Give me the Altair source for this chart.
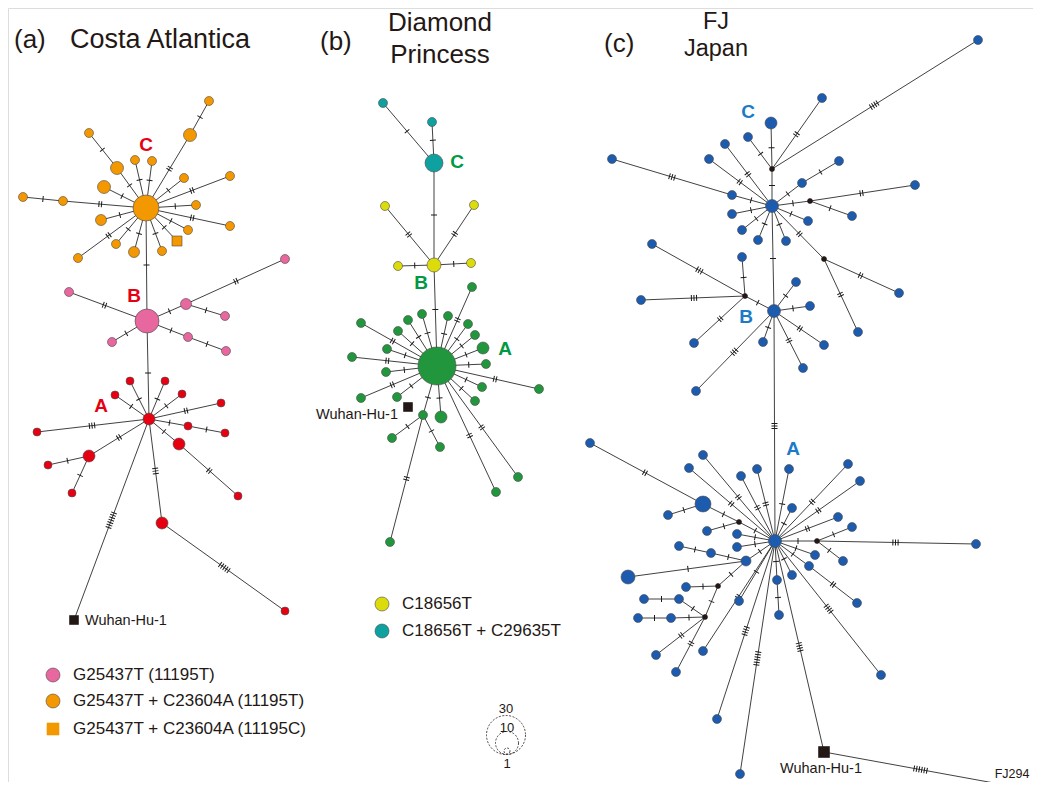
import math
import altair as alt
import pandas as pd

# ---------------- data: haplotype nodes (name, x, y, diameter, group, parent, mutations)
a_nodes = [
    ("aA", 149, 419, 12, "red", None, 0),
    ("aB", 147, 321, 24, "pink", "aA", 1),
    ("aC", 146, 208, 26, "orange", "aB", 1),
    ("a1", 190, 135, 13, "orange", "aC", 2),
    ("a2", 209, 101, 9, "orange", "a1", 1),
    ("a3", 117, 168, 13, "orange", "aC", 1),
    ("a4", 89, 133, 9, "orange", "a3", 1),
    ("a5", 135, 160, 9, "orange", "aC", 1),
    ("a6", 152, 161, 9, "orange", "aC", 1),
    ("a7", 104, 187, 13, "orange", "aC", 1),
    ("a8", 184, 178, 9, "orange", "aC", 1),
    ("a9", 230, 176, 9, "orange", "aC", 2),
    ("a10", 63, 201, 9, "orange", "aC", 2),
    ("a11", 23, 197, 9, "orange", "a10", 1),
    ("a12", 196, 205, 9, "orange", "aC", 1),
    ("a13", 101, 220, 11, "orange", "aC", 1),
    ("a14", 188, 230, 9, "orange", "aC", 1),
    ("a15", 230, 226, 9, "orange", "aC", 2),
    ("a16", 78, 258, 9, "orange", "aC", 2),
    ("a17", 116, 244, 9, "orange", "aC", 1),
    ("a18", 134, 252, 11, "orange", "aC", 1),
    ("a19", 162, 251, 9, "orange", "aC", 1),
    ("a20", 177, 241, 10, "orangesq", "aC", 1),
    ("b1", 69, 292, 9, "pink", "aB", 2),
    ("b2", 186, 304, 11, "pink", "aB", 1),
    ("b3", 285, 259, 9, "pink", "b2", 2),
    ("b4", 225, 316, 9, "pink", "b2", 1),
    ("b5", 112, 342, 9, "pink", "aB", 1),
    ("b6", 188, 337, 9, "pink", "aB", 1),
    ("b7", 226, 351, 9, "pink", "b6", 1),
    ("r1", 130, 381, 8, "red", "aA", 1),
    ("r2", 165, 381, 8, "red", "aA", 1),
    ("r3", 115, 395, 8, "red", "aA", 1),
    ("r4", 182, 394, 8, "red", "aA", 1),
    ("r5", 221, 403, 8, "red", "aA", 2),
    ("r6", 37, 432, 8, "red", "aA", 3),
    ("r7", 188, 426, 8, "red", "aA", 1),
    ("r8", 225, 433, 8, "red", "r7", 1),
    ("r9", 179, 444, 12, "red", "aA", 1),
    ("r10", 238, 496, 8, "red", "r9", 2),
    ("r11", 89, 456, 12, "red", "aA", 2),
    ("r12", 48, 465, 8, "red", "r11", 1),
    ("r13", 72, 493, 8, "red", "r11", 1),
    ("r14", 162, 523, 12, "red", "aA", 3),
    ("r15", 285, 611, 8, "red", "r14", 5),
    ("wa", 74, 620, 9, "ref", "aA", 7),
]

b_nodes = [
    ("dA", 437, 366, 38, "green", None, 0),
    ("dB", 434, 265, 14, "yellow", "dA", 1),
    ("dC", 434, 163, 18, "teal", "dB", 1),
    ("t1", 383, 103, 9, "teal", "dC", 1),
    ("t2", 432, 122, 9, "teal", "dC", 1),
    ("y1", 385, 206, 9, "yellow", "dB", 2),
    ("y2", 474, 205, 9, "yellow", "dB", 2),
    ("y3", 398, 266, 9, "yellow", "dB", 1),
    ("y4", 471, 263, 9, "yellow", "dB", 1),
    ("g1", 472, 287, 9, "green", "dA", 2),
    ("g2", 361, 323, 9, "green", "dA", 2),
    ("g3", 422, 314, 9, "green", "dA", 1),
    ("g4", 448, 316, 9, "green", "dA", 1),
    ("g5", 408, 320, 9, "green", "dA", 1),
    ("g6", 468, 324, 9, "green", "dA", 1),
    ("g7", 398, 331, 9, "green", "dA", 1),
    ("g8", 475, 335, 9, "green", "dA", 1),
    ("g9", 483, 348, 12, "green", "dA", 1),
    ("g10", 387, 349, 9, "green", "dA", 1),
    ("g11", 352, 357, 9, "green", "dA", 2),
    ("g12", 486, 364, 9, "green", "dA", 1),
    ("g13", 386, 372, 9, "green", "dA", 1),
    ("g14", 539, 389, 9, "green", "dA", 2),
    ("g15", 482, 387, 9, "green", "dA", 1),
    ("g16", 361, 398, 9, "green", "dA", 2),
    ("g17", 397, 397, 9, "green", "dA", 1),
    ("g18", 475, 401, 9, "green", "dA", 1),
    ("g19", 441, 417, 12, "green", "dA", 1),
    ("g20", 423, 415, 9, "green", "dA", 1),
    ("g21", 392, 438, 9, "green", "g20", 1),
    ("g22", 440, 447, 9, "green", "g20", 1),
    ("g23", 390, 542, 9, "green", "g20", 2),
    ("g24", 518, 477, 9, "green", "dA", 2),
    ("g25", 496, 492, 9, "green", "dA", 2),
    ("wb", 408, 407, 9, "ref", None, 0),
]

c_nodes = [
    ("cA", 775, 541, 13, "blue", None, 0),
    ("cB", 774, 311, 13, "blue", "cA", 3),
    ("cC", 772, 206, 13, "blue", "cB", 1),
    ("j1", 772, 169, 5, "junction", "cC", 1),
    ("c1", 771, 123, 12, "blue", "j1", 1),
    ("c2", 748, 137, 9, "blue", "j1", 1),
    ("c3", 822, 98, 9, "blue", "j1", 2),
    ("c4", 978, 40, 9, "blue", "j1", 4),
    ("c5", 725, 144, 9, "blue", "cC", 2),
    ("c6", 709, 159, 9, "blue", "cC", 2),
    ("c7", 732, 195, 9, "blue", "cC", 1),
    ("c8", 612, 159, 9, "blue", "c7", 3),
    ("c9", 732, 214, 9, "blue", "cC", 1),
    ("c10", 742, 230, 9, "blue", "cC", 1),
    ("c11", 758, 240, 9, "blue", "cC", 1),
    ("c12", 786, 241, 9, "blue", "cC", 1),
    ("c13", 808, 221, 9, "blue", "cC", 1),
    ("c14", 802, 183, 9, "blue", "cC", 1),
    ("c15", 839, 161, 9, "blue", "c14", 1),
    ("j2", 810, 201, 5, "junction", "cC", 1),
    ("c16", 915, 185, 9, "blue", "j2", 2),
    ("c17", 852, 216, 9, "blue", "j2", 1),
    ("j3", 824, 259, 5, "junction", "cC", 2),
    ("c18", 899, 293, 9, "blue", "j3", 2),
    ("c19", 858, 332, 9, "blue", "j3", 2),
    ("e1", 796, 282, 9, "blue", "cB", 1),
    ("e2", 810, 306, 9, "blue", "cB", 1),
    ("e3", 824, 345, 9, "blue", "cB", 2),
    ("e4", 803, 368, 9, "blue", "cB", 2),
    ("e5", 763, 342, 9, "blue", "cB", 1),
    ("e6", 696, 391, 9, "blue", "cB", 3),
    ("j4", 745, 296, 5, "junction", "cB", 1),
    ("e7", 742, 257, 9, "blue", "j4", 1),
    ("e8", 652, 244, 9, "blue", "j4", 3),
    ("e9", 641, 300, 9, "blue", "j4", 3),
    ("e10", 694, 343, 9, "blue", "j4", 2),
    ("j5", 739, 522, 5, "junction", "cA", 1),
    ("f1", 703, 504, 16, "blue", "j5", 1),
    ("f2", 590, 443, 9, "blue", "f1", 2),
    ("f3", 668, 515, 9, "blue", "f1", 1),
    ("f4", 707, 531, 9, "blue", "j5", 1),
    ("f5", 703, 455, 9, "blue", "cA", 2),
    ("f6", 689, 468, 9, "blue", "cA", 2),
    ("f7", 741, 476, 9, "blue", "cA", 2),
    ("f8", 757, 469, 9, "blue", "cA", 2),
    ("f9", 789, 469, 9, "blue", "cA", 1),
    ("f10", 848, 464, 9, "blue", "cA", 2),
    ("f11", 860, 481, 9, "blue", "cA", 2),
    ("f12", 792, 508, 9, "blue", "cA", 1),
    ("f13", 838, 517, 9, "blue", "cA", 2),
    ("f14", 737, 534, 9, "blue", "cA", 1),
    ("f15", 737, 547, 9, "blue", "cA", 1),
    ("j6", 817, 541, 5, "junction", "cA", 1),
    ("f16", 852, 527, 9, "blue", "j6", 1),
    ("f17", 976, 544, 9, "blue", "j6", 3),
    ("f18", 843, 561, 9, "blue", "j6", 1),
    ("f19", 815, 555, 9, "blue", "cA", 1),
    ("f20", 809, 566, 9, "blue", "cA", 1),
    ("f21", 857, 603, 9, "blue", "f20", 2),
    ("f22", 792, 575, 9, "blue", "cA", 1),
    ("f23", 777, 580, 9, "blue", "cA", 1),
    ("f24", 779, 615, 9, "blue", "f23", 1),
    ("f25", 881, 675, 9, "blue", "cA", 4),
    ("m1", 746, 561, 10, "blue", "cA", 1),
    ("f26", 711, 553, 9, "blue", "m1", 1),
    ("f27", 679, 546, 9, "blue", "f26", 1),
    ("f28", 628, 577, 14, "blue", "m1", 1),
    ("j7", 718, 586, 5, "junction", "m1", 1),
    ("f29", 686, 587, 9, "blue", "j7", 1),
    ("j8", 705, 617, 5, "junction", "j7", 1),
    ("f30", 679, 599, 9, "blue", "j8", 1),
    ("f31", 644, 599, 9, "blue", "f30", 1),
    ("f32", 671, 618, 9, "blue", "j8", 1),
    ("f33", 638, 618, 9, "blue", "f32", 1),
    ("f34", 656, 655, 9, "blue", "j8", 2),
    ("f35", 676, 672, 9, "blue", "j8", 2),
    ("f36", 739, 601, 9, "blue", "cA", 1),
    ("f37", 703, 651, 9, "blue", "cA", 2),
    ("f38", 717, 719, 9, "blue", "cA", 4),
    ("f39", 740, 774, 9, "blue", "cA", 6),
    ("wc", 824, 752, 11, "ref", "cA", 4),
    ("fj", 1016, 787, 9, "blue", "wc", 6),
]

# ---------------- text content
titles = [("(a)", 14, 48, "left", 26), ("Costa Atlantica", 70, 48, "left", 27),
          ("(b)", 320, 50, "left", 26), ("Diamond", 440, 31, "center", 26), ("Princess", 440, 63, "center", 26),
          ("(c)", 604, 52, "left", 26), ("FJ", 716, 29, "center", 23.5), ("Japan", 716, 56, "center", 23.5)]
cluster_labels = [("C", 146, 145, "#E60012"), ("B", 134, 296, "#E60012"), ("A", 101, 406, "#E60012"),
                  ("C", 457, 162, "#009944"), ("B", 421, 283, "#009944"), ("A", 505, 349, "#009944"),
                  ("C", 748, 112, "#1B7BC8"), ("B", 746, 317, "#1B7BC8"), ("A", 793, 449, "#1B7BC8")]
legend_groups = ["pink", "orange", "orangesq", "yellow", "teal"]
legend_texts = ["G25437T (11195T)", "G25437T + C23604A (11195T)", "G25437T + C23604A (11195C)",
                "C18656T", "C18656T + C29635T"]
legend_x = [53, 53, 53, 382, 382]
legend_y = [675, 701, 729, 604, 631]
scale_values = ["30", "10", "1"]
scale_diam = [39, 23, 6]
scale_cx = [506, 507, 507]
scale_cy = [735, 743, 751]
scale_ty = [709, 728, 764]

COLORS = {"orange": "#F39800", "orangesq": "#F39800", "pink": "#E8679F", "red": "#E60012",
          "yellow": "#DCDC0C", "teal": "#0FA0A0", "green": "#22963C", "blue": "#1D5BAF",
          "junction": "#231815", "ref": "#231815"}

# ---------------- build tables
nodes = a_nodes + b_nodes + c_nodes
pos = {n[0]: (n[1], n[2], n[3]) for n in nodes}
node_rows, edge_rows, tick_rows = [], [], []
for name, x, y, d, g, par, m in nodes:
    shape = "square" if g in ("ref", "orangesq") else "circle"
    node_rows.append(dict(x=x, y=y, size=d * d, fill=COLORS[g], shape=shape,
                          stroke="#231815" if g in ("ref", "junction") else "#4a4a4a"))
    if par:
        px, py, pdm = pos[par]
        edge_rows.append(dict(x=px, y=py, x2=x, y2=y))
        if m:
            dx, dy = x - px, y - py
            L = math.hypot(dx, dy)
            ux, uy = dx / L, dy / L
            mid = (pdm / 2 + (L - d / 2)) / 2
            ang = math.degrees(math.atan2(dy, dx)) % 360
            for k in range(m):
                t = mid + (k - (m - 1) / 2) * 2.6
                tick_rows.append(dict(x=px + ux * t, y=py + uy * t, angle=ang))

for g, t, lx, ly in zip(legend_groups, legend_texts, legend_x, legend_y):
    node_rows.append(dict(x=lx, y=ly, size=(14 * 14 if g != "orangesq" else 12 * 12), fill=COLORS[g],
                          shape="square" if g == "orangesq" else "circle",
                          stroke="#4a4a4a" if g != "orangesq" else COLORS[g]))

nodes_df = pd.DataFrame(node_rows)
edges_df = pd.DataFrame(edge_rows)
ticks_df = pd.DataFrame(tick_rows)
titles_df = pd.DataFrame(titles, columns=["text", "x", "y", "anchor", "size"])
clabels_df = pd.DataFrame(cluster_labels, columns=["text", "x", "y", "color"])
legend_df = pd.DataFrame(dict(text=legend_texts, x=[v + 20 for v in legend_x], y=legend_y))
scale_df = pd.DataFrame(dict(text=scale_values, cx=scale_cx, cy=scale_cy, size=[v * v for v in scale_diam],
                             ty=scale_ty))
small_df = pd.DataFrame(dict(text=["Wuhan-Hu-1", "Wuhan-Hu-1", "Wuhan-Hu-1", "FJ294"],
                             x=[85, 398, 821, 1012], y=[625, 419, 773, 778],
                             anchor=["left", "right", "center", "center"],
                             size=[14.5, 14.5, 14.5, 12.5]))

X = alt.Scale(domain=[8, 1033])
Y = alt.Scale(domain=[8, 782], reverse=True)
FONT = "Liberation Sans"

def xe(f="x"):
    return alt.X(f"{f}:Q", scale=X, axis=None)

def ye(f="y"):
    return alt.Y(f"{f}:Q", scale=Y, axis=None)

edges = alt.Chart(edges_df).mark_rule(color="#2b2b2b", strokeWidth=0.9).encode(
    x=xe(), y=ye(), x2="x2:Q", y2="y2:Q")

ticks = alt.Chart(ticks_df).mark_point(shape="M0,-1L0,1", size=36, filled=False,
                                       color="#1a1a1a", strokeWidth=1, opacity=1).encode(
    x=xe(), y=ye(), angle=alt.Angle("angle:Q", scale=None))

pts = alt.Chart(nodes_df).mark_point(filled=True, opacity=1, strokeWidth=0.6).encode(
    x=xe(), y=ye(),
    size=alt.Size("size:Q", scale=None),
    fill=alt.Fill("fill:N", scale=None),
    stroke=alt.Stroke("stroke:N", scale=None),
    shape=alt.Shape("shape:N", scale=None))

layers = [edges, ticks, pts]

for al in ["left", "center"]:
    sub = titles_df[titles_df["anchor"] == al]
    layers.append(alt.Chart(sub).mark_text(font=FONT, align=al, baseline="alphabetic",
                                           color="#231815").encode(
        x=xe(), y=ye(), text="text:N", size=alt.Size("size:Q", scale=None)))

layers.append(alt.Chart(clabels_df).mark_text(font=FONT, fontSize=19, fontWeight="bold", align="center",
                                              baseline="middle").encode(
    x=xe(), y=ye(), text="text:N", color=alt.Color("color:N", scale=None)))

layers.append(alt.Chart(legend_df).mark_text(font=FONT, fontSize=17, align="left", baseline="middle",
                                             color="#231815").encode(x=xe(), y=ye(), text="text:N"))

for al in ["left", "right", "center"]:
    sub = small_df[small_df["anchor"] == al]
    layers.append(alt.Chart(sub).mark_text(font=FONT, align=al, baseline="alphabetic",
                                           color="#231815").encode(
        x=xe(), y=ye(), text="text:N", size=alt.Size("size:Q", scale=None)))

layers.append(alt.Chart(scale_df).mark_point(shape="circle", filled=False, color="#231815",
                                             strokeWidth=0.8, strokeDash=[2, 1.5], opacity=1).encode(
    x=xe("cx"), y=ye("cy"), size=alt.Size("size:Q", scale=None)))
layers.append(alt.Chart(scale_df).mark_text(font=FONT, fontSize=13, align="center", baseline="middle",
                                            color="#231815").encode(x=xe("cx"), y=ye("ty"), text="text:N"))

chart = alt.layer(*layers).properties(
    width=1025, height=774, padding=0, autosize=alt.AutoSizeParams(type="none")
).configure_view(stroke=None).configure(background="white")

chart.save("out.html", embed_options={"renderer": "svg", "actions": False})
